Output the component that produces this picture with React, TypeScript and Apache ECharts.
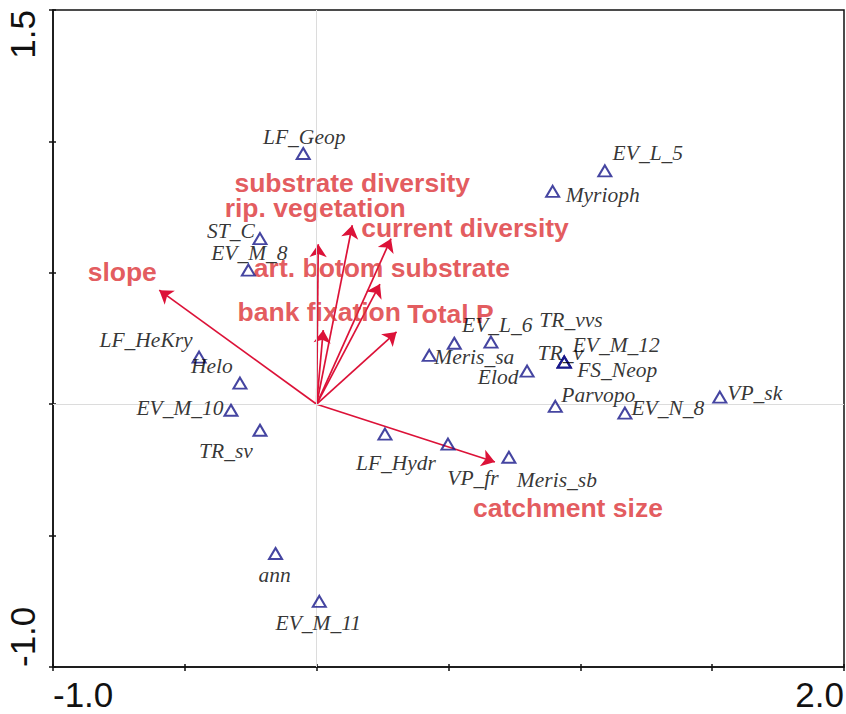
import React, { useEffect, useRef } from "react";
import * as echarts from "echarts";

// ---- species (triangles) ----
const speciesNames = [
  "LF_Geop", "ST_C", "EV_M_8", "LF_HeKry", "Helo", "EV_M_10", "TR_sv", "LF_Hydr",
  "Meris_sa", "EV_L_6", "TR_vvs", "Elod", "TR_v", "EV_M_12", "FS_Neop", "Parvopo",
  "EV_N_8", "VP_sk", "VP_fr", "Meris_sb", "EV_L_5", "Myrioph", "ann", "EV_M_11",
];
const speciesX = [
  -0.051, -0.215, -0.259, -0.446, -0.291, -0.325, -0.215, 0.259,
  0.427, 0.522, 0.661, 0.798, 0.939, 0.939, 0.939, 0.905,
  1.169, 1.529, 0.498, 0.729, 1.093, 0.895, -0.156, 0.01,
];
const speciesY = [
  0.954, 0.63, 0.51, 0.179, 0.08, -0.023, -0.099, -0.114,
  0.186, 0.232, 0.236, 0.126, 0.16, 0.16, 0.16, -0.008,
  -0.034, 0.027, -0.152, -0.202, 0.888, 0.81, -0.568, -0.75,
];

// ---- environmental variables (arrows) ----
const envNames = [
  "substrate diversity", "rip. vegetation", "current diversity", "art. botom substrate",
  "bank fixation", "Total P", "slope", "catchment size",
];
const envX = [0.135, 0.006, 0.282, 0.24, 0.025, 0.303, -0.597, 0.676];
const envY = [0.681, 0.609, 0.63, 0.457, 0.282, 0.275, 0.434, -0.22];

// ---- axis tick labels ----
const xTickLabels: Record<string, string> = { "-1": "-1.0", "2": "2.0" };
const yTickLabels: Record<string, string> = { "-1": "-1.0", "1.5": "1.5" };

// ---- label placement (pixel offsets from point) ----
const speciesLabelOffset: [number, number][] = [
  [1, -16], [-29, -8], [1, -17], [-53, -17], [-28, -17], [-51, -2], [-34, 21], [11, 29],
  [45, 2], [43, -18], [80, -22], [-29, 6], [-4, -9], [52, -17], [53, 8], [43, -11],
  [43, -5], [35, -4], [25, 34], [48, 23], [43, -18], [50, 4], [-1, 22], [-1, 22],
];
const envLabelOffset: [number, number][] = [
  [0, -42], [-3, -36], [74, -11], [2, -16], [-4, -18], [54, -18], [-37, -18], [73, 46],
];

const AXIS_COLOR = "#111";
const ARROW_COLOR = "#dc1238";
const ENV_TEXT = "#dc3034";
const TRI_COLOR = "#16168a";

export default function App() {
  const ref = useRef<HTMLDivElement>(null);
  useEffect(() => {
    if (!ref.current) return;
    const chart = echarts.init(ref.current, undefined, { renderer: "svg" });

    const axisCommon = {
      type: "value" as const,
      interval: 0.5,
      splitLine: { show: false },
    };

    const option: any = {
      animation: false,
      grid: {
        left: 53, right: 2, top: 10, bottom: 47,
        containLabel: false,
        outerBoundsMode: "none",
        show: true,
        borderColor: AXIS_COLOR,
        borderWidth: 1.5,
        backgroundColor: "transparent",
      },
      xAxis: [
        {
          ...axisCommon,
          min: -1, max: 2, position: "bottom",
          axisLine: { show: true, onZero: false, lineStyle: { color: AXIS_COLOR, width: 1.5 } },
          axisTick: { show: true, length: 4, lineStyle: { color: AXIS_COLOR, width: 1.5 } },
          axisLabel: {
            show: true, margin: 10, showMinLabel: true, showMaxLabel: true,
            alignMinLabel: "left", alignMaxLabel: "right",
            fontFamily: "Liberation Sans, Arial, sans-serif", fontSize: 35, color: AXIS_COLOR,
            formatter: (v: number) => xTickLabels[String(v)] ?? "",
          },
        },
        {
          ...axisCommon,
          min: -1, max: 2, position: "bottom",
          axisLine: { show: false, onZero: false },
          axisTick: { show: true, inside: true, length: 3, lineStyle: { color: AXIS_COLOR, width: 1.5 } },
          axisLabel: { show: false },
        },
      ],
      yAxis: [
        {
          ...axisCommon,
          min: -1, max: 1.5, position: "left",
          axisLine: { show: true, onZero: false, lineStyle: { color: AXIS_COLOR, width: 1.5 } },
          axisTick: { show: true, length: 4, lineStyle: { color: AXIS_COLOR, width: 1.5 } },
          axisLabel: {
            show: true, margin: 13, rotate: 90, showMinLabel: true, showMaxLabel: true,
            alignMinLabel: "left", alignMaxLabel: "right",
            fontFamily: "Liberation Sans, Arial, sans-serif", fontSize: 35, color: AXIS_COLOR,
            formatter: (v: number) => yTickLabels[String(v)] ?? "",
          },
        },
        {
          ...axisCommon,
          min: -1, max: 1.5, position: "left",
          axisLine: { show: false, onZero: false },
          axisTick: { show: true, inside: true, length: 3, lineStyle: { color: AXIS_COLOR, width: 1.5 } },
          axisLabel: { show: false },
        },
      ],
      series: [
        {
          type: "scatter",
          name: "crosshair",
          data: [],
          silent: true,
          z: 1,
          markLine: {
            silent: true,
            symbol: ["none", "none"],
            label: { show: false },
            lineStyle: { color: "#dcdcdc", width: 1, type: "solid" },
            data: [{ xAxis: 0 }, { yAxis: 0 }],
          },
        },
        {
          type: "lines",
          name: "env",
          coordinateSystem: "cartesian2d",
          z: 3,
          symbol: ["none", "arrow"],
          symbolSize: [0, 13],
          lineStyle: { color: ARROW_COLOR, width: 1.7, opacity: 1, curveness: 0 },
          data: envNames.map((n, i) => ({ name: n, coords: [[0, 0], [envX[i], envY[i]]] })),
        },
        {
          type: "scatter",
          name: "envLabels",
          z: 4,
          symbolSize: 1,
          itemStyle: { color: "transparent" },
          data: envNames.map((n, i) => ({
            name: n,
            value: [envX[i], envY[i]],
            label: { offset: envLabelOffset[i] },
          })),
          label: {
            show: true,
            position: "inside",
            formatter: (p: any) => p.name,
            fontFamily: "Liberation Sans, Arial, sans-serif",
            fontWeight: "bold",
            fontSize: 26.5,
            color: ENV_TEXT,
          },
        },
        {
          type: "scatter",
          name: "species",
          z: 5,
          symbol: "triangle",
          symbolSize: [13, 11],
          itemStyle: { color: "rgba(0,0,0,0)", borderColor: TRI_COLOR, borderWidth: 2 },
          data: speciesNames.map((n, i) => ({
            name: n,
            value: [speciesX[i], speciesY[i]],
            label: { offset: speciesLabelOffset[i] },
          })),
          label: {
            show: true,
            position: "inside",
            formatter: (p: any) => p.name,
            fontFamily: "Liberation Serif, Times New Roman, serif",
            fontStyle: "italic",
            fontSize: 21.5,
            color: "#000",
          },
        },
      ],
    };
    chart.setOption(option);
    return () => chart.dispose();
  }, []);

  return (
    <div
      ref={ref}
      style={{ position: "absolute", left: 0, top: 0, width: 846, height: 714, background: "#fff" }}
    />
  );
}
